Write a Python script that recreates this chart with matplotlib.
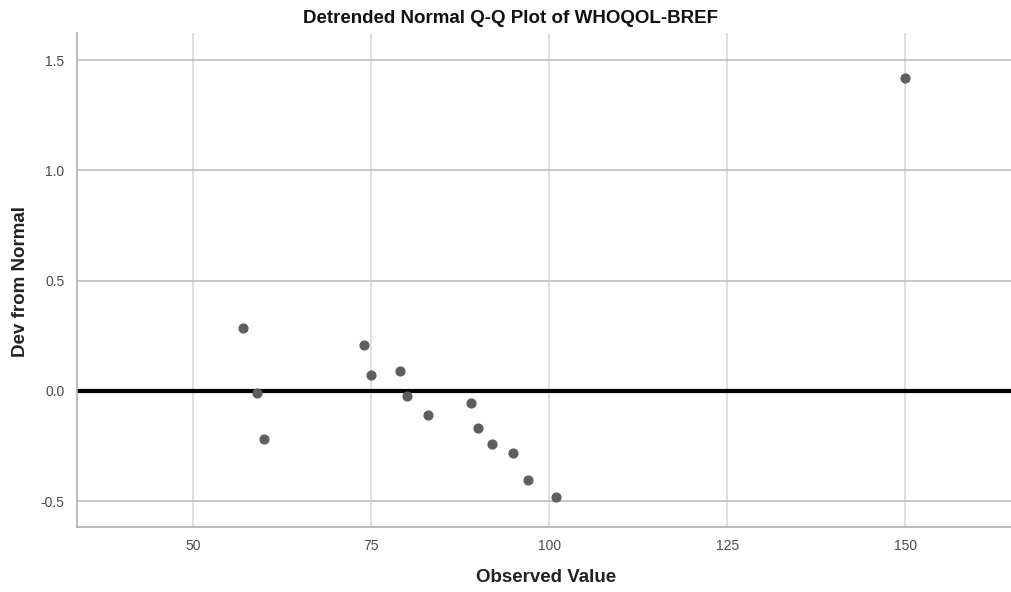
import matplotlib
matplotlib.use("Agg")
import matplotlib.pyplot as plt

plt.rcParams['font.family'] = ['Liberation Sans', 'DejaVu Sans']

# observed WHOQOL-BREF scores and their deviation from normal
observed = [57, 59, 60, 74, 75, 79, 80, 83, 89, 90, 92, 95, 97, 101, 150]
dev_from_normal = [0.285, -0.008, -0.22, 0.209, 0.074, 0.091, -0.021, -0.109,
                   -0.056, -0.167, -0.241, -0.283, -0.405, -0.480, 1.418]

x_ticks = [50, 75, 100, 125, 150]
y_ticks = [-0.5, 0.0, 0.5, 1.0, 1.5]

fig = plt.figure(figsize=(10.12, 5.92), dpi=100)
ax = fig.add_axes([0.076, 0.110, 0.924, 0.834])

ax.set_xlim(33.7, 165.0)
ax.set_ylim(-0.617, 1.623)

for xv in x_ticks:
    ax.axvline(xv, color='#d9d9d9', lw=1.2, zorder=0)
for yv in y_ticks:
    if yv != 0.0:
        ax.axhline(yv, color='#bdbdbd', lw=1.2, zorder=0)
ax.axhline(0.0, color='black', lw=3, zorder=1)

ax.scatter(observed, dev_from_normal, s=40, color='#5e5e5e', zorder=3)

ax.set_xticks(x_ticks)
ax.set_yticks(y_ticks)
ax.set_xticklabels([str(v) for v in x_ticks])
ax.set_yticklabels(['%.1f' % v for v in y_ticks])
ax.tick_params(length=0, labelsize=10, colors='#4a4a4a', pad=9)

for side in ['top', 'right']:
    ax.spines[side].set_visible(False)
for side in ['left', 'bottom']:
    ax.spines[side].set_color('#b0b0b0')
    ax.spines[side].set_linewidth(1.2)

fig.text(0.504, 0.968, 'Detrended Normal Q-Q Plot of WHOQOL-BREF',
         ha='center', va='center', fontsize=13.5, fontweight='bold', color='#111111')
fig.text(0.540, 0.025, 'Observed Value', ha='center', va='center',
         fontsize=13.5, fontweight='bold', color='#222222')
fig.text(0.020, 0.525, 'Dev from Normal', ha='center', va='center',
         rotation=90, fontsize=13.5, fontweight='bold', color='#222222')

fig.savefig('out.png', dpi=100)
